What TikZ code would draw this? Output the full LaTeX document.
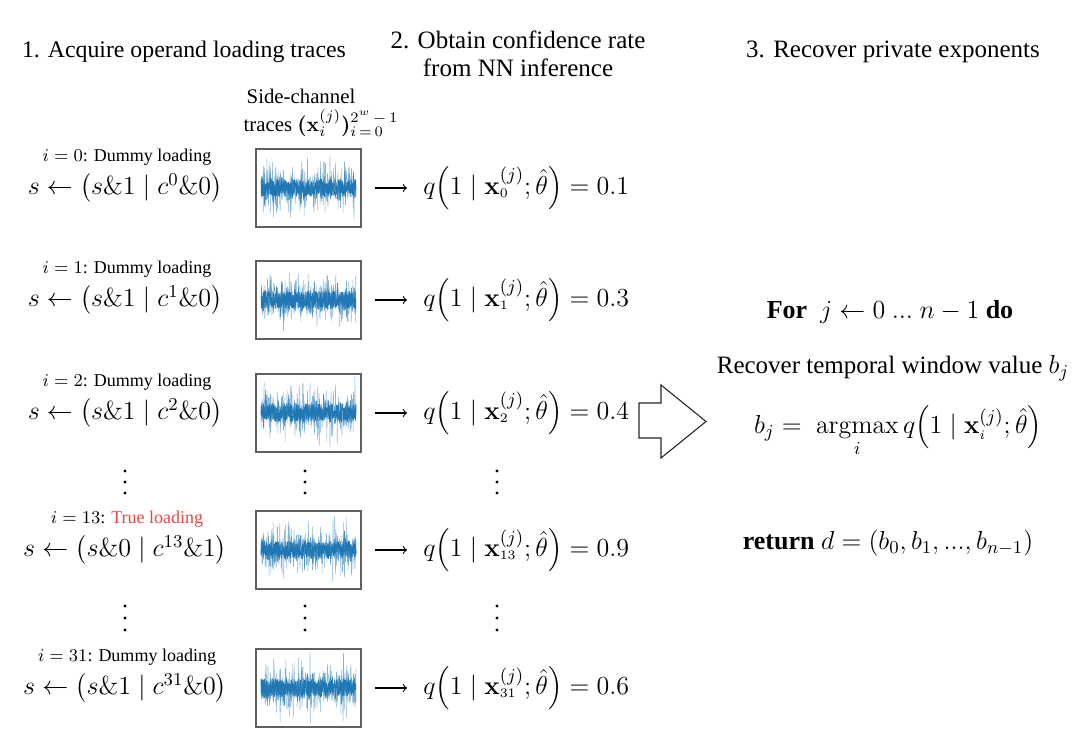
\RequirePackage{fix-cm}
\documentclass[tikz,border=0pt]{standalone}
\usepackage{amsmath,bm}
\usepackage[no-math]{fontspec}
\setmainfont{Liberation Serif}

\definecolor{sigblue}{RGB}{31,119,180}
\definecolor{loadred}{RGB}{238,68,68}
\definecolor{boxgray}{RGB}{95,95,95}

\newcommand\loadkind[1]{\ifnum#1=13 \textcolor{loadred}{True loading}\else Dummy loading\fi}

\tikzset{
  title/.style={font=\fontsize{12.5}{14}\selectfont, align=center},
  lab/.style={font=\fontsize{9}{11}\selectfont, inner sep=0pt},
  sidelab/.style={font=\fontsize{10.4}{12}\selectfont, inner sep=0pt},
  eqn/.style={font=\fontsize{13}{15.6}\selectfont, inner sep=0pt},
  trace/.style={draw=boxgray, line width=0.6pt, minimum width=52.5pt, minimum height=39pt, inner sep=0pt},
  spike/.style={sigblue!55, line width=0.25pt},
  mid/.style={sigblue!85, line width=0.25pt},
  core/.style={sigblue, line width=0.35pt},
  flow/.style={->, line width=0.55pt, shorten <=6.5pt, shorten >=8pt},
  bigarrow/.style={draw=black!85, line width=0.55pt},
}

\begin{document}
\begin{tikzpicture}[x=0.5pt, y=-0.5pt]
  \useasboundingbox (0,0) rectangle (1080,733);

  % column headings
  \node[title, font=\fontsize{11.9}{14}\selectfont] (head1) at (184,52) {1. Acquire operand loading traces};
  \node[title] (head2) at (518,54) {2. Obtain confidence rate\\from NN inference};
  \node[title] (head3) at (893,52) {3. Recover private exponents};
  \node[sidelab] (side1) at (301,96) {Side-channel};
  \node[sidelab] (side2) at (321,123) {traces $\bm{(}\mathbf{x}^{(j)}_{i}\bm{)}^{2^w\,-\,1}_{i\,=\,0}$};

  % one row per loading
  \foreach \i/\y/\sa/\cb/\v in {0/188/1/0/0.1, 1/300/1/0/0.3, 2/413/1/0/0.4, 13/550/0/1/0.9, 31/688/1/0/0.6} {
    \node[lab] (lab\i) at (127,\y-31) {$i=\i$: \loadkind{\i}};
    \node[eqn] (op\i) at (125,\y) {$s \leftarrow \big(s\&\sa \mid c^{\i}\&\cb\big)$};
    \node[trace] (tr\i) at (308.5,\y) {};
    \pgfmathsetseed{\i+5}
    \draw[spike] plot[variable=\t, samples=340, domain=261:356] (\t, {\y+34*rand*sqrt(rnd)*(rnd>0.4)+8*rand});
    \draw[mid] plot[variable=\t, samples=340, domain=261:356] (\t, {\y+20*rand*rnd+5*rand});
    \draw[core] plot[variable=\t, samples=400, domain=261:356] (\t, {\y+9*rand});
    \node[eqn, anchor=west] (q\i) at (423,\y) {$q\Big(1 \mid \mathbf{x}^{(j)}_{\scriptscriptstyle\i}; \hat{\theta}\Big) = \v$};
    \draw[flow] (tr\i) -- (q\i);
  }

  % skipped rows
  \foreach \yy/\g in {482/11, 618/12}
    \foreach \xx in {125,305,497}
      \foreach \d in {-1,0,1}
        \fill (\xx,\yy+\d*\g) circle[radius=0.85pt];

  % hollow arrow
  \draw[bigarrow] (639,403) -- (661,403) -- (661,385) -- (706,421.5) -- (661,458) -- (661,438) -- (639,438) -- cycle;

  % recovery step
  \node[eqn] (loop) at (890,312) {\textbf{For} \ $j \leftarrow 0\ ...\ n-1$ \textbf{do}};
  \node[title] (rec) at (893,368) {Recover temporal window value {\fontsize{13}{15}\selectfont$b_j$}};
  \node[eqn] (arg) at (898,430) {$\displaystyle b_j = \; \mathop{\mathrm{argmax}}\limits_{i} q\Big(1 \mid \mathbf{x}^{(j)}_{\scriptscriptstyle i}; \hat{\theta}\Big)$};
  \node[eqn] (ret) at (888,543) {\textbf{return} $d = (b_0, b_1, ..., b_{n-1})$};
\end{tikzpicture}
\end{document}
